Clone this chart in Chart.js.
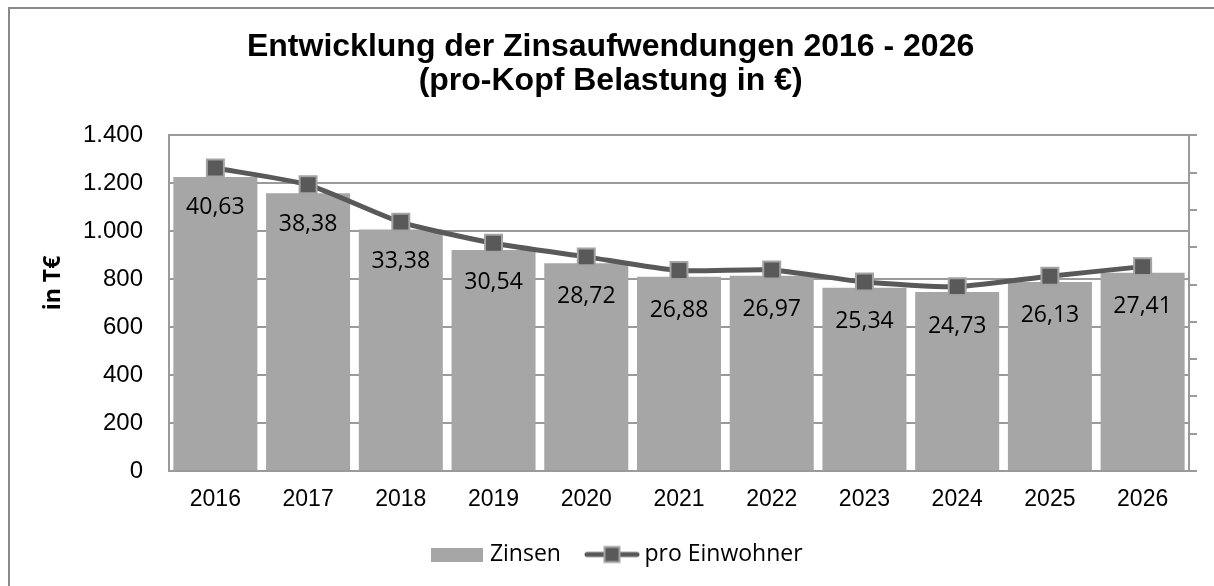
<!DOCTYPE html>
<html>
<head>
<meta charset="utf-8">
<script src="https://cdn.jsdelivr.net/npm/chart.js@4"></script>
<style>
  html, body { margin: 0; padding: 0; background: #ffffff; }
  #wrap { position: relative; width: 1214px; height: 586px; }
</style>
</head>
<body>
<div id="wrap"><canvas id="c" width="1214" height="586"></canvas></div>
<script>
const categories = ['2016', '2017', '2018', '2019', '2020', '2021', '2022', '2023', '2024', '2025', '2026'];
const zinsen = [1227, 1159, 1008, 922, 867, 811, 815, 765, 747, 789, 827];
const proEinwohner = [40.63, 38.38, 33.38, 30.54, 28.72, 26.88, 26.97, 25.34, 24.73, 26.13, 27.41];
const leftTicks = [0, 200, 400, 600, 800, 1000, 1200, 1400];
const titleLines = ['Entwicklung der Zinsaufwendungen 2016 - 2026', '(pro-Kopf Belastung in €)'];
const yAxisTitle = 'in T€';
const seriesNames = ['Zinsen', 'pro Einwohner'];

const BAR = '#a6a6a6';
const LINE = '#595959';
const MARK_BORDER = '#a3a3a3';
const GRID = '#9a9a9a';

function fmtThousands(v) {
  return String(v).replace(/\B(?=(\d{3})+(?!\d))/g, '.');
}
function fmtDec(v) {
  return v.toFixed(2).replace('.', ',');
}

// legend symbols
const barSym = document.createElement('canvas');
barSym.width = 52; barSym.height = 14;
(function () {
  const g = barSym.getContext('2d');
  g.fillStyle = BAR;
  g.fillRect(0, 0, 52, 14);
})();
const lineSym = document.createElement('canvas');
lineSym.width = 56; lineSym.height = 20;
(function () {
  const g = lineSym.getContext('2d');
  g.strokeStyle = LINE;
  g.lineWidth = 5;
  g.lineCap = 'round';
  g.beginPath(); g.moveTo(3, 10); g.lineTo(53, 10); g.stroke();
  g.fillStyle = LINE;
  g.fillRect(20.5, 2.5, 15, 15);
  g.strokeStyle = MARK_BORDER;
  g.lineWidth = 2;
  g.strokeRect(20.5, 2.5, 15, 15);
})();

const decorPlugin = {
  id: 'decor',
  beforeDraw(chart) {
    const ctx = chart.ctx;
    ctx.save();
    ctx.fillStyle = '#ffffff';
    ctx.fillRect(0, 0, chart.width, chart.height);
    ctx.strokeStyle = '#8a8a8a';
    ctx.lineWidth = 2;
    ctx.beginPath();
    ctx.moveTo(9, chart.height);
    ctx.lineTo(9, 8);
    ctx.lineTo(chart.width, 8);
    ctx.stroke();
    ctx.restore();
  },
  afterDatasetsDraw(chart) {
    const ctx = chart.ctx;
    const meta = chart.getDatasetMeta(1);
    ctx.save();
    ctx.fillStyle = '#000000';
    ctx.font = '23px "Open Sans"';
    ctx.textAlign = 'center';
    ctx.textBaseline = 'middle';
    meta.data.forEach((pt, i) => {
      ctx.fillText(fmtDec(proEinwohner[i]), pt.x, pt.y + 39.5);
    });
    ctx.restore();
  },
  afterDraw(chart) {
    const ctx = chart.ctx;
    ctx.save();
    ctx.translate(53, 283);
    ctx.rotate(-Math.PI / 2);
    ctx.fillStyle = '#000000';
    ctx.font = 'bold 23px "Open Sans"';
    ctx.textAlign = 'center';
    ctx.textBaseline = 'middle';
    ctx.fillText(yAxisTitle, 0, 0);
    ctx.restore();
  }
};

new Chart(document.getElementById('c'), {
  data: {
    labels: categories,
    datasets: [
      {
        type: 'bar',
        label: seriesNames[0],
        data: zinsen,
        yAxisID: 'y',
        backgroundColor: BAR,
        borderWidth: 0,
        barPercentage: 0.906,
        categoryPercentage: 1.0,
        order: 2
      },
      {
        type: 'line',
        label: seriesNames[1],
        data: proEinwohner,
        yAxisID: 'y1',
        borderColor: LINE,
        borderWidth: 5,
        tension: 0.2,
        pointStyle: 'rect',
        pointRadius: 12,
        pointBackgroundColor: LINE,
        pointBorderColor: MARK_BORDER,
        pointBorderWidth: 2,
        order: 1
      }
    ]
  },
  options: {
    responsive: false,
    animation: false,
    events: [],
    layout: { padding: { left: 25, right: 0, top: 0, bottom: 10 } },
    plugins: {
      tooltip: { enabled: false },
      title: {
        display: true,
        text: titleLines.map(t => t + '\u00a0\u00a0'),
        color: '#000000',
        font: { family: '"Liberation Sans", Arial, sans-serif', size: 32, weight: 'bold', lineHeight: 1.07 },
        padding: { top: 30, bottom: 37 }
      },
      legend: {
        display: true,
        position: 'bottom',
        labels: {
          usePointStyle: true,
          pointStyleWidth: 42,
          boxHeight: 23,
          padding: 30,
          color: '#000000',
          font: { family: '"Open Sans", sans-serif', size: 23 },
          generateLabels(chart) {
            return [
              { text: seriesNames[0], pointStyle: barSym, fillStyle: BAR, strokeStyle: BAR, lineWidth: 0, hidden: false, datasetIndex: 0 },
              { text: seriesNames[1], pointStyle: lineSym, fillStyle: LINE, strokeStyle: LINE, lineWidth: 0, hidden: false, datasetIndex: 1 }
            ];
          }
        }
      }
    },
    scales: {
      x: {
        type: 'category',
        grid: { display: false, drawTicks: false },
        border: { display: true, color: GRID, width: 2 },
        ticks: {
          color: '#000000',
          padding: 15,
          maxRotation: 0,
          font: { family: '"Liberation Sans", Arial, sans-serif', size: 23 }
        },
        afterFit(scale) { scale.height = 42; }
      },
      y: {
        type: 'linear',
        position: 'left',
        min: 0,
        max: 1400,
        afterBuildTicks(scale) { scale.ticks = leftTicks.map(v => ({ value: v })); },
        grid: { color: GRID, lineWidth: 2, drawTicks: false },
        border: { display: true, color: GRID, width: 2 },
        ticks: {
          color: '#000000',
          padding: 26,
          font: { family: '"Liberation Sans", Arial, sans-serif', size: 24 },
          callback: (v) => fmtThousands(v)
        },
        afterFit(scale) { scale.width = 144; }
      },
      y1: {
        type: 'linear',
        position: 'right',
        min: 0,
        max: 45,
        grid: { drawOnChartArea: false, drawTicks: true, tickLength: 8, color: GRID, lineWidth: 2 },
        border: { display: true, color: GRID, width: 2 },
        ticks: { display: false, stepSize: 5 },
        afterFit(scale) { scale.width = 25; }
      }
    }
  },
  plugins: [decorPlugin]
});
</script>
</body>
</html>
